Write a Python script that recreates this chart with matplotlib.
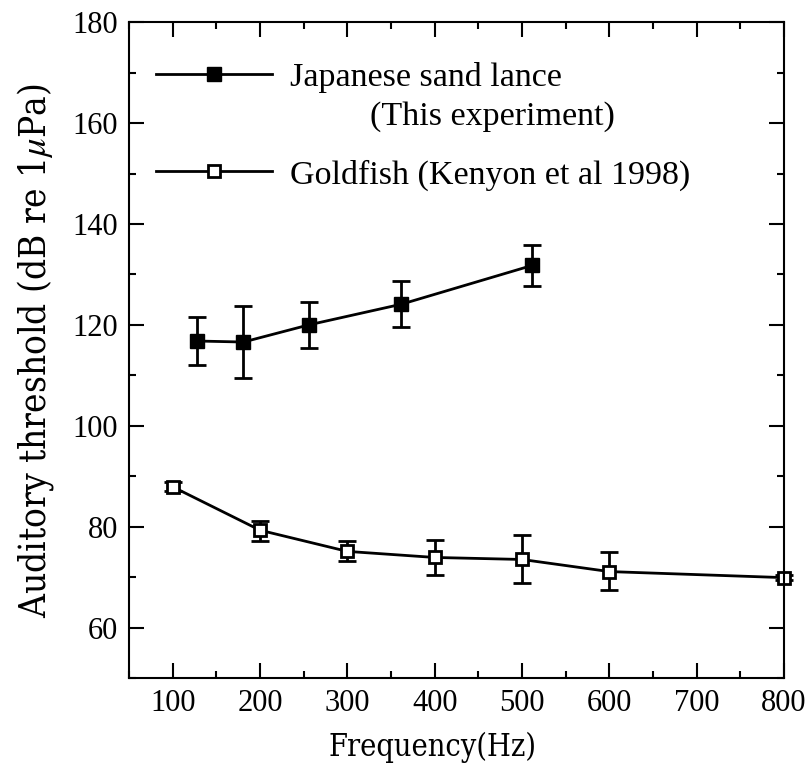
import numpy as np
import matplotlib.pyplot as plt
from matplotlib.ticker import MultipleLocator

# Japanese sand lance (this experiment)
sl_freq = [128, 181, 256, 362, 512]
sl_thr = [116.8, 116.6, 120.0, 124.1, 131.8]
sl_lo = [112.0, 109.5, 115.4, 119.6, 127.7]
sl_hi = [121.5, 123.8, 124.5, 128.6, 135.9]

# Goldfish (Kenyon et al 1998)
gf_freq = [100, 200, 300, 400, 500, 600, 800]
gf_thr = [87.9, 79.3, 75.1, 73.9, 73.5, 71.1, 69.9]
gf_lo = [87.0, 77.2, 73.1, 70.4, 68.8, 67.5, 69.4]
gf_hi = [88.8, 81.2, 77.2, 77.3, 78.4, 74.9, 70.4]

plt.rcParams['font.family'] = ['Liberation Serif', 'DejaVu Serif']
plt.rcParams['mathtext.fontset'] = 'stix'

fig = plt.figure(figsize=(8.09, 7.78), dpi=100)
ax = fig.add_axes([0.1595, 0.1285, 0.8095, 0.843])


def yerr(v, lo, hi):
    v = np.array(v)
    return [v - np.array(lo), np.array(hi) - v]


# error bars first, then line + markers on top
ax.errorbar(sl_freq, sl_thr, yerr=yerr(sl_thr, sl_lo, sl_hi), fmt='none',
            ecolor='k', elinewidth=2, capsize=6.5, capthick=2)
ax.errorbar(gf_freq, gf_thr, yerr=yerr(gf_thr, gf_lo, gf_hi), fmt='none',
            ecolor='k', elinewidth=2, capsize=6.5, capthick=2, clip_on=False)
l1, = ax.plot(sl_freq, sl_thr, color='k', lw=2, marker='s', ms=10,
              mfc='k', mec='k', label='Japanese sand lance')
l2, = ax.plot(gf_freq, gf_thr, color='k', lw=2, marker='s', ms=9,
              mfc='w', mec='k', mew=2, clip_on=False,
              label='Goldfish (Kenyon et al 1998)')

ax.set_xlim(50, 800)
ax.set_ylim(50, 180)
ax.xaxis.set_major_locator(MultipleLocator(100))
ax.xaxis.set_minor_locator(MultipleLocator(50))
ax.yaxis.set_minor_locator(MultipleLocator(10))
ax.set_yticks(np.arange(60, 181, 20))
ax.tick_params(which='both', direction='in', top=True, right=True, width=1.5,
               labelsize=22, pad=8)
ax.tick_params(which='major', length=11)
ax.tick_params(which='minor', length=5)
for s in ax.spines.values():
    s.set_linewidth(1.5)

ax.set_xlabel('Frequency(Hz)', family='DejaVu Serif', stretch='condensed',
              fontsize=22)
ax.set_ylabel('Auditory threshold (dB re 1$\\mu$Pa)', family='DejaVu Serif',
              stretch='condensed', fontsize=26.5)
ax.xaxis.set_label_coords(0.463, -0.082)
ax.yaxis.set_label_coords(-0.112, 0.5)

leg = ax.legend(handles=[l1, l2], loc='upper left',
                bbox_to_anchor=(0.0, 0.981), frameon=False, fontsize=24.5,
                handlelength=3.4, handletextpad=0.52, labelspacing=1.95,
                borderaxespad=0.4)
ax.annotate('(This experiment)', xy=(0, 0), xycoords=leg.get_texts()[0],
            xytext=(80, -8), textcoords='offset pixels', ha='left', va='top',
            fontsize=24.5, zorder=10)

plt.savefig('out.png', dpi=100)
